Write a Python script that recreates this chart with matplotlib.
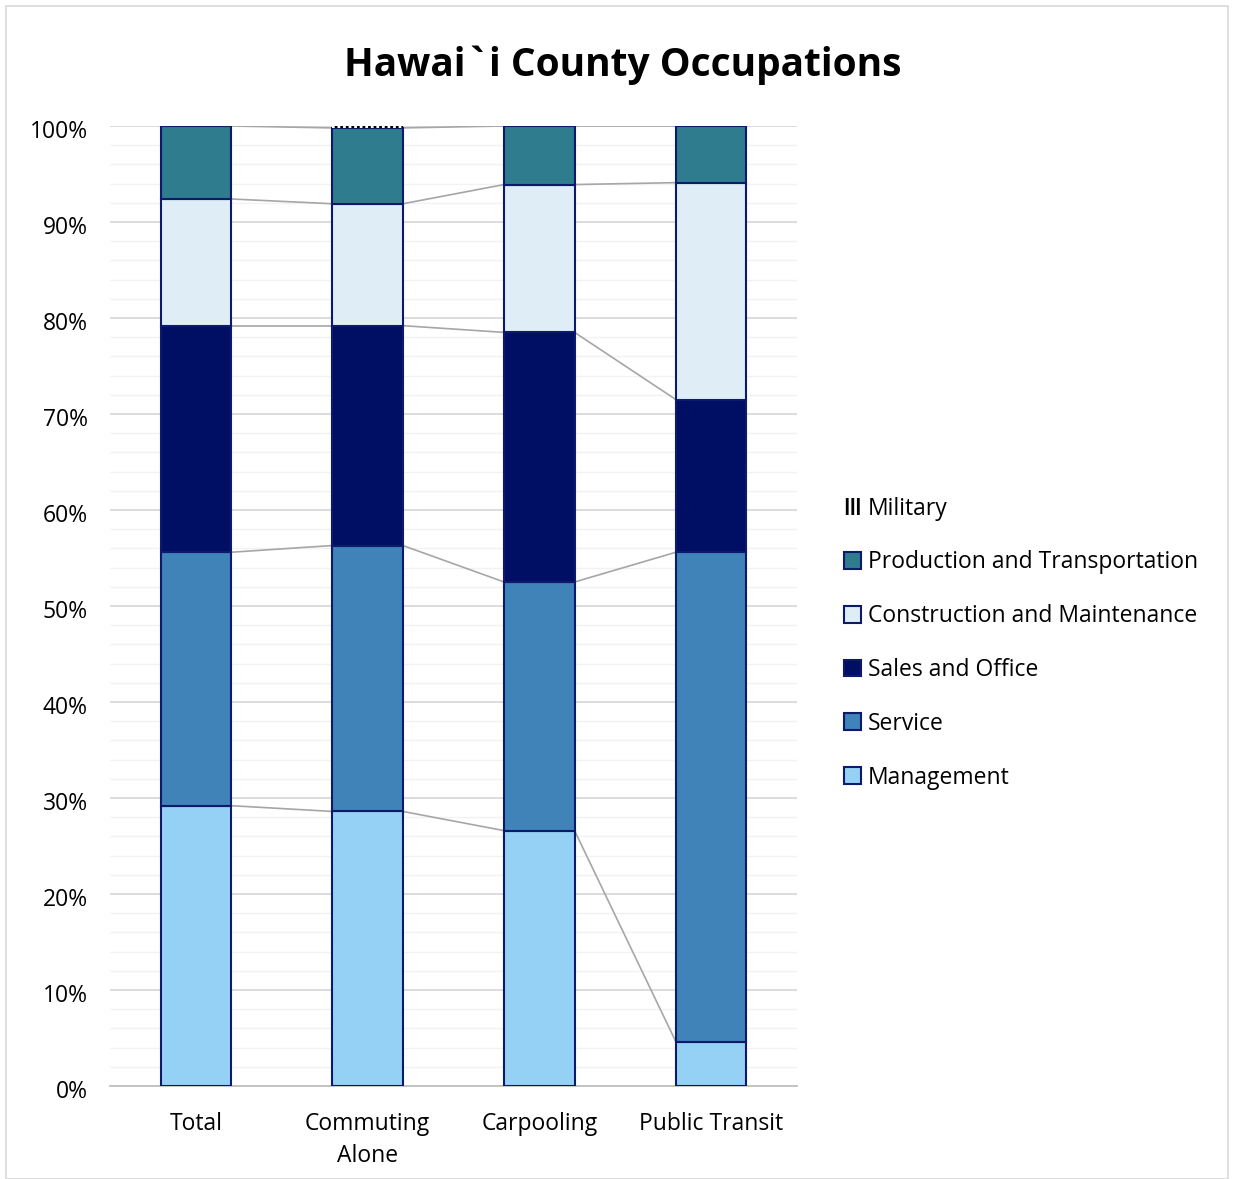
import matplotlib
matplotlib.use("Agg")
import matplotlib.pyplot as plt
import matplotlib.transforms as mtransforms
import numpy as np
from matplotlib.patches import Rectangle
from matplotlib.ticker import MultipleLocator, FuncFormatter

categories = ["Total", "Commuting\nAlone", "Carpooling", "Public Transit"]
series_names = ["Management", "Service", "Sales and Office",
                "Construction and Maintenance", "Production and Transportation", "Military"]
management = [29.2, 28.6, 26.6, 4.6]
service = [26.4, 27.7, 25.9, 51.0]
sales_office = [23.6, 22.9, 26.0, 15.9]
construction = [13.2, 12.7, 15.4, 22.6]
production = [7.6, 7.9, 6.1, 5.9]
military = [0.0, 0.2, 0.0, 0.0]

series_values = [management, service, sales_office, construction, production, military]
colors = ["#95D1F5", "#3F83B8", "#000F63", "#DFEEF6", "#2F7C8F", "white"]
edge = "#0D1A6B"

plt.rcParams['font.family'] = ['Open Sans', 'DejaVu Sans']
plt.rcParams['hatch.linewidth'] = 2.0
fig = plt.figure(figsize=(12.34, 11.79), dpi=100)
ax = fig.add_axes([110/1234, 1-1086/1179, 687/1234, 960/1179])

x = np.arange(len(categories))
width = 0.41
bottom = np.zeros(len(categories))
handles = []
tops_all = []
for name, vals, col in zip(series_names, series_values, colors):
    vals = np.array(vals, dtype=float)
    if name == "Military":
        h = ax.bar(x, vals, width, bottom=bottom, facecolor="white", edgecolor="black",
                   hatch="|||", linewidth=0, label=name, zorder=3)
    else:
        h = ax.bar(x, vals, width, bottom=bottom, color=col, edgecolor=edge,
                   linewidth=1.5, label=name, zorder=3)
    handles.append(h)
    bottom = bottom + vals
    tops_all.append(bottom.copy())

# series lines
for tops in tops_all[:-1]:
    for i in range(len(categories) - 1):
        ax.plot([x[i] + width/2, x[i+1] - width/2], [tops[i], tops[i+1]],
                color="#A6A6A6", linewidth=1.2, zorder=2)

ax.set_xlim(-0.5, 3.5)
ax.set_ylim(0, 100)
ax.yaxis.set_major_locator(MultipleLocator(10))
ax.yaxis.set_minor_locator(MultipleLocator(2))
ax.yaxis.set_major_formatter(FuncFormatter(lambda v, p: f"{int(round(v))}%"))
ax.grid(axis='y', which='major', color="#D9D9D9", linewidth=1.3, zorder=0)
ax.grid(axis='y', which='minor', color="#F2F2F2", linewidth=1.0, zorder=0)
ax.set_axisbelow(True)
for s in ["top", "right", "left"]:
    ax.spines[s].set_visible(False)
ax.spines["bottom"].set_color("#BFBFBF")
ax.spines["bottom"].set_linewidth(1.3)
ax.tick_params(axis='both', which='both', length=0)
ax.tick_params(axis='y', labelsize=16.5, pad=16)
ax.tick_params(axis='x', labelsize=16.5, pad=19)
ax.set_xticks(x)
ax.set_xticklabels(categories, linespacing=1.45)
offset = mtransforms.ScaledTranslation(0, -3/100, fig.dpi_scale_trans)
for lbl in ax.get_yticklabels():
    lbl.set_transform(lbl.get_transform() + offset)
for lbl in ax.get_yticklabels() + ax.get_xticklabels():
    lbl.set_color("#000000")

fig.text(623/1234, 1-65/1179, "Hawai`i County Occupations", ha="center", va="center",
         fontsize=28, fontweight="bold")

leg = fig.legend(handles[::-1], series_names[::-1], loc="upper left",
                 bbox_to_anchor=(823/1234, 1-476/1179), frameon=False, fontsize=16.5,
                 handlelength=0.75, handleheight=0.75, handletextpad=0.3, labelspacing=1.3)

fig.add_artist(Rectangle((6/1234, 0), 1-12/1234, 1-6/1179, transform=fig.transFigure,
                         fill=False, edgecolor="#D9D9D9", linewidth=1.2))

fig.savefig("out.png", dpi=100)
